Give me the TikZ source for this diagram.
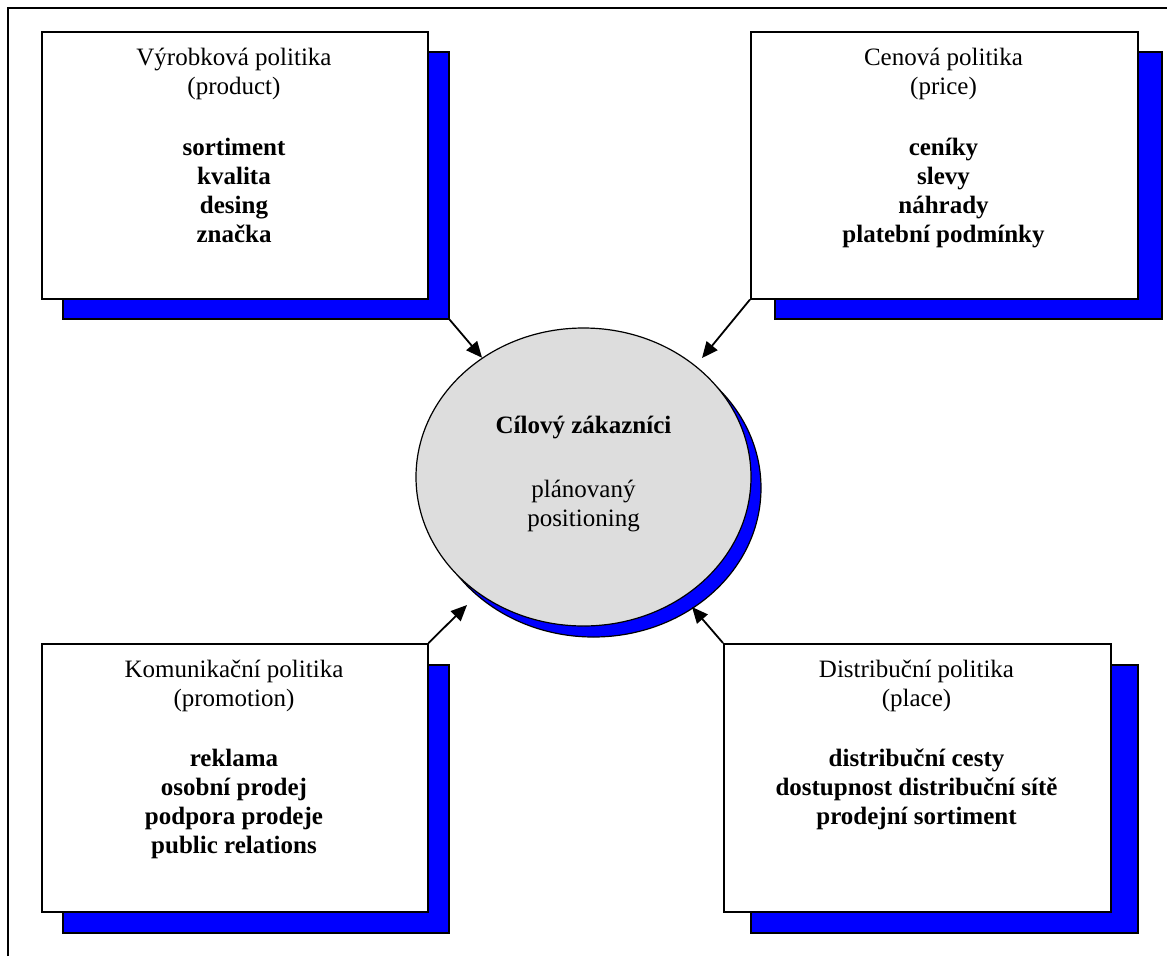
\documentclass[tikz,border=0pt]{standalone}
\usepackage{fontspec}
\setmainfont{Liberation Serif}
\usetikzlibrary{arrows.meta,shapes.geometric}
\definecolor{shadowblue}{RGB}{0,0,255}
\definecolor{discgray}{RGB}{221,221,221}
\newcommand{\panelfont}{\fontsize{25pt}{29pt}\selectfont}
\newcommand{\lines}[1]{\begin{tabular}[t]{@{}c@{}}#1\end{tabular}}
\begin{document}
\begin{tikzpicture}[x=1pt,y=-1pt,
  frame/.style={draw=black, line width=1.6pt},
  % white panel with a solid blue, black-edged shadow shifted right/down
  panel/.style n args={4}{draw=black, line width=1.5pt, fill=white,
    anchor=north west, inner sep=0pt, minimum width=#1, minimum height=#2,
    preaction={fill=shadowblue, draw=black, line width=1.5pt,
      transform canvas={xshift=#3, yshift=-#4}}},
  disc/.style={ellipse, draw=black, line width=1.2pt, fill=discgray,
    inner sep=0pt, minimum width=335pt, minimum height=298pt,
    preaction={fill=shadowblue, draw=black, line width=1.2pt,
      transform canvas={xshift=10pt, yshift=-11pt}}},
  label/.style={anchor=base, inner sep=0pt, font=\panelfont},
  link/.style={draw=black, line width=1.8pt,
    -{Triangle[length=16pt,width=14pt]}}
]
\useasboundingbox (0,0) rectangle (1167,956);

% outer frame
\draw[frame] (8,956) -- (8,8) -- (1167,8);

% the four policy panels
\node[panel={386pt}{267pt}{21pt}{20pt}] (b1) at (41,31) {};
\node[panel={387pt}{267pt}{24pt}{20pt}] (b2) at (750,31) {};
\node[panel={386pt}{268pt}{21pt}{21pt}] (b3) at (41,643) {};
\node[panel={387pt}{268pt}{27pt}{21pt}] (b4) at (723,643) {};

% central target
\node[disc] (ell) at (583.5,477) {};

% panel texts
\node[label] (t1) at (234,65) {\lines{Výrobková politika\\(product)\\[32pt]
  \textbf{sortiment}\\\textbf{kvalita}\\\textbf{desing}\\\textbf{značka}}};
\node[label] (t2) at (943.5,65) {\lines{Cenová politika\\(price)\\[32pt]
  \textbf{ceníky}\\\textbf{slevy}\\\textbf{náhrady}\\\textbf{platební podmínky}}};
\node[label] (t3) at (234,677) {\lines{Komunikační politika\\(promotion)\\[31pt]
  \textbf{reklama}\\\textbf{osobní prodej}\\\textbf{podpora prodeje}\\\textbf{public relations}}};
\node[label] (t4) at (916.5,677) {\lines{Distribuční politika\\(place)\\[31pt]
  \textbf{distribuční cesty}\\\textbf{dostupnost distribuční sítě}\\\textbf{prodejní sortiment}}};
\node[label] (te) at (583.5,433) {\lines{\textbf{Cílový zákazníci}\\[35pt]
  plánovaný\\positioning}};

% arrows from the panels to the target
\coordinate (s1) at ([xshift=21pt,yshift=-20pt]b1.south east);
\coordinate (p2) at (702,358);
\coordinate (p3) at (467,605);
\coordinate (p4) at (692,607);
\draw[link] (s1) -- (ell);
\draw[link] (b2.south west) -- (p2);
\draw[link] (b3.north east) -- (p3);
\draw[link] (b4.north west) -- (p4);
\end{tikzpicture}
\end{document}
